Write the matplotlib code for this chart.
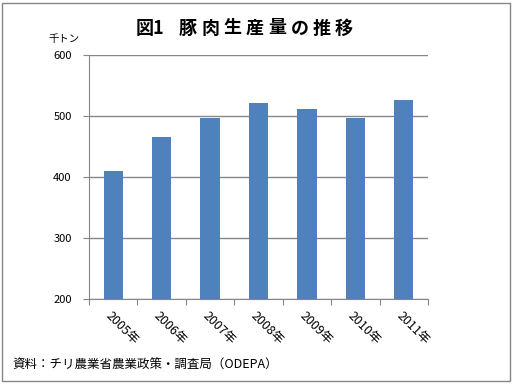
import matplotlib.pyplot as plt
from matplotlib.patches import Rectangle

plt.rcParams['font.family'] = ['Noto Sans CJK JP', 'DejaVu Sans']

# data
years = ['2005年', '2006年', '2007年', '2008年', '2009年', '2010年', '2011年']
production = [410, 466, 497, 521, 511, 497, 526]
title_chars = ['図1', '豚', '肉', '生', '産', '量', 'の', '推', '移']

fig = plt.figure(figsize=(5.14, 3.88), dpi=100)
ax = fig.add_axes([89 / 514, 1 - 299 / 388, (428 - 89) / 514, (299 - 55) / 388])

x = range(len(years))
ax.bar(x, production, width=0.4, color='#4F81BD', zorder=3)

ax.set_ylim(200, 600)
ax.set_xlim(-0.5, len(years) - 0.5)
ax.set_yticks([200, 300, 400, 500, 600])
ax.tick_params(axis='y', labelsize=8, length=4, color='#868686', pad=8.5)
ax.grid(axis='y', color='#868686', linewidth=1, zorder=0)

# category ticks between bars
ax.set_xticks([i - 0.5 for i in range(len(years) + 1)])
ax.set_xticklabels([])
ax.tick_params(axis='x', length=4, color='#868686')
for i, lab in enumerate(years):
    ax.text(i - 0.02, 184, lab, rotation=-45, ha='left', va='top',
            rotation_mode='anchor', fontsize=9, transform=ax.transData,
            clip_on=False)

for s in ['top', 'right']:
    ax.spines[s].set_visible(False)
ax.spines['left'].set_color('#868686')
ax.spines['bottom'].set_color('#868686')

# title with wide letter spacing
fig.text(150 / 514, 1 - 28 / 388, title_chars[0], ha='center', va='center',
         fontsize=13, fontweight='bold')
xpos = 188
for ch in title_chars[1:]:
    fig.text(xpos / 514, 1 - 28 / 388, ch, ha='center', va='center',
             fontsize=13, fontweight='bold')
    xpos += 22.3

fig.text(64 / 514, 1 - 39 / 388, '千トン', ha='center', va='center', fontsize=7.5)
fig.text(12 / 514, 1 - 365 / 388, '資料：チリ農業省農業政策・調査局（ODEPA）', ha='left',
         va='center', fontsize=9)

fig.add_artist(Rectangle((2 / 514, 1 - 381 / 388), 508 / 514, 378 / 388,
                         transform=fig.transFigure, fill=False,
                         edgecolor='#868686', linewidth=1))

fig.savefig('out.png', dpi=100)
